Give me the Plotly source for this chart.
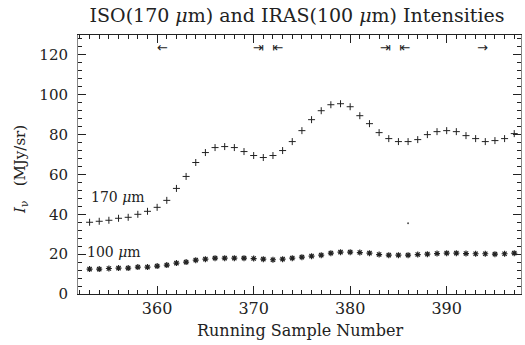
import plotly.graph_objects as go

# ---- data ----
samples = list(range(353, 398))
iso170 = [36, 36.5, 37, 38, 38.5, 40, 41.5, 43.5, 47, 53,
          59, 66, 71, 73.5, 74, 73.5, 71.5, 69.5, 68.5, 69.5,
          72, 76.5, 82, 87.5, 92, 95, 95.5, 94, 89.5, 85.5,
          81, 78, 76.5, 76.5, 77.5, 80, 81.5, 82, 81.5, 79.5,
          78, 76.5, 77, 78, 80.5]
iras100 = [12.5, 12.5, 12.8, 13, 13, 13.5, 13.5, 14, 14.5, 15.5,
           16, 17, 17.5, 18, 18, 18, 18, 17.8, 17.5, 17.2,
           17.5, 18, 18.5, 19, 19.5, 20.5, 21, 21, 20.8, 20.5,
           19.8, 19.5, 19.5, 19.5, 19.8, 20, 20.3, 20.5, 20.5, 20.3,
           20.2, 20.2, 20, 20.2, 20.5]
stray_x = [386]
stray_y = [35.5]

x_ticks = [360, 370, 380, 390]
y_ticks = [0, 20, 40, 60, 80, 100, 120]

arrow_x = [360.6, 371.5, 384.6, 393.7]
arrow_text = ["←", "⇥&nbsp;&nbsp;⇤", "⇥&nbsp;&nbsp;⇤", "→"]
arrow_y = 123.5

FONT = "DejaVu Serif"
INK = "#222222"

# plot-area geometry in pixels (for placing outer titles)
L, R, T, B = 78, 521, 35, 294
W, H = 525, 345

def px_to_paper_x(px):
    return (px - L) / (R - L)

def px_to_paper_y(py):
    return (B - py) / (B - T)

fig = go.Figure()
fig.add_trace(go.Scatter(
    x=samples, y=iso170, mode="markers",
    marker=dict(symbol="cross-thin", size=5, color=INK,
                line=dict(width=1, color=INK)),
    showlegend=False))
fig.add_trace(go.Scatter(
    x=samples, y=iras100, mode="markers",
    marker=dict(symbol="asterisk-open", size=5, color=INK,
                line=dict(width=1.2, color=INK)),
    showlegend=False))
fig.add_trace(go.Scatter(
    x=stray_x, y=stray_y, mode="markers",
    marker=dict(symbol="circle", size=2, color="#555"),
    showlegend=False))

annotations = []
for ax_, t in zip(arrow_x, arrow_text):
    annotations.append(dict(x=ax_, y=arrow_y, xref="x", yref="y", text=t,
                            showarrow=False,
                            font=dict(family="DejaVu Sans", size=13, color=INK)))
annotations.append(dict(x=352.9, y=48.5, xref="x", yref="y", text="170 <i>μ</i>m",
                        xanchor="left", showarrow=False,
                        font=dict(family=FONT, size=14, color=INK)))
annotations.append(dict(x=352.5, y=21, xref="x", yref="y", text="100 <i>μ</i>m",
                        xanchor="left", showarrow=False,
                        font=dict(family=FONT, size=14, color=INK)))
annotations.append(dict(x=px_to_paper_x(300), y=px_to_paper_y(330),
                        xref="paper", yref="paper",
                        text="Running Sample Number", showarrow=False,
                        xanchor="center", yanchor="middle",
                        font=dict(family=FONT, size=16, color=INK)))
annotations.append(dict(x=px_to_paper_x(20), y=px_to_paper_y(170),
                        xref="paper", yref="paper",
                        text="<i>I</i><sub>ν</sub>&nbsp;&nbsp;&nbsp;(MJy/sr)", showarrow=False,
                        textangle=-90, xanchor="center", yanchor="middle",
                        font=dict(family=FONT, size=15, color=INK)))

fig.update_layout(
    width=W, height=H,
    margin=dict(l=L, r=W - R, t=T, b=H - B),
    paper_bgcolor="white", plot_bgcolor="white",
    title=dict(text="ISO(170 <i>μ</i>m) and IRAS(100 <i>μ</i>m) Intensities",
               x=px_to_paper_x(297), xref="paper", xanchor="center",
               y=1 - 15 / H, yref="container", yanchor="middle",
               font=dict(family=FONT, size=19, color=INK)),
    annotations=annotations,
    xaxis=dict(range=[351.8, 397.7], tickvals=x_ticks, ticks="inside",
               ticklen=8, tickcolor=INK, showline=True, linecolor=INK,
               linewidth=1, mirror="allticks", showgrid=False, zeroline=False,
               tickfont=dict(family=FONT, size=16, color=INK),
               minor=dict(dtick=1, ticks="inside", ticklen=4, tickcolor=INK, showgrid=False)),
    yaxis=dict(range=[0, 130], tickvals=y_ticks, ticks="inside",
               ticklen=8, tickcolor=INK, showline=True, linecolor="#888",
               linewidth=1, mirror="allticks", showgrid=False, zeroline=False,
               ticklabelstandoff=6,
               tickfont=dict(family=FONT, size=15, color=INK),
               minor=dict(dtick=4, ticks="inside", ticklen=4, tickcolor=INK, showgrid=False)),
)

fig.write_html("out.html")
